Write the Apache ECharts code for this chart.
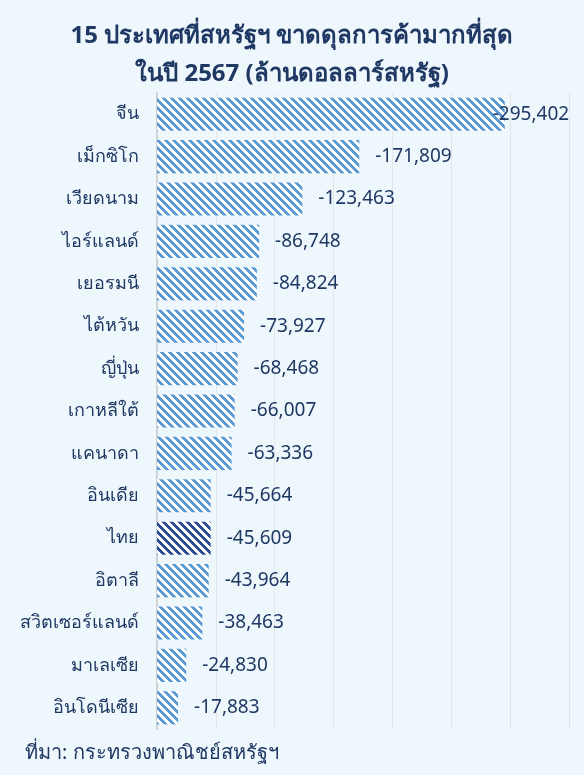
<!DOCTYPE html>
<html>
<head>
<meta charset="utf-8">
<script src="https://cdn.jsdelivr.net/npm/echarts@6/dist/echarts.min.js"></script>
<style>
  html, body { margin: 0; padding: 0; background: #eef7fb; }
  #chart { width: 584px; height: 775px; }
  .edge { position: absolute; left: 5px; top: 0; width: 2px; height: 775px; background: #cfd3d6; }
</style>
</head>
<body>
<div class="edge"></div>
<div id="chart"></div>
<script>
const countries = ['จีน', 'เม็กซิโก', 'เวียดนาม', 'ไอร์แลนด์', 'เยอรมนี', 'ไต้หวัน', 'ญี่ปุ่น', 'เกาหลีใต้',
  'แคนาดา', 'อินเดีย', 'ไทย', 'อิตาลี', 'สวิตเซอร์แลนด์', 'มาเลเซีย', 'อินโดนีเซีย']
const deficits = [-295402, -171809, -123463, -86748, -84824, -73927, -68468, -66007,
  -63336, -45664, -45609, -43964, -38463, -24830, -17883]
const highlight = 'ไทย'

// diagonal stripe tile used as the bar fill
function stripes(color) {
  const n = 8
  const c = document.createElement('canvas')
  c.width = n
  c.height = n
  const ctx = c.getContext('2d')
  ctx.fillStyle = '#ffffff'
  ctx.fillRect(0, 0, n, n)
  ctx.fillStyle = color
  for (let y = 0; y < n; y++) {
    for (let x = 0; x < n; x++) {
      if (((x - y) % n + n) % n < 4) ctx.fillRect(x, y, 1, 1)
    }
  }
  return { image: c, repeat: 'repeat' }
}

const light = stripes('#5b9bd5')
const dark = stripes('#2f4c96')

const fmt = v => v.toLocaleString('en-US')
const font = 'Noto Sans, DejaVu Sans, sans-serif'

const chart = echarts.init(document.getElementById('chart'))
chart.setOption({
  backgroundColor: '#eef7fb',
  textStyle: { fontFamily: font },
  title: {
    text: '15 ประเทศที่สหรัฐฯ ขาดดุลการค้ามากที่สุด\nในปี 2567 (ล้านดอลลาร์สหรัฐ)',
    left: 'center',
    top: 12,
    textStyle: { color: '#1f3864', fontSize: 24, fontWeight: 'bold', lineHeight: 38 }
  },
  graphic: [{
    type: 'text',
    left: 25,
    top: 743,
    style: { text: 'ที่มา: กระทรวงพาณิชย์สหรัฐฯ', fill: '#1f3864', fontSize: 20, fontFamily: font }
  }],
  grid: { left: 157, right: 15, top: 93, bottom: 46, containLabel: false },
  xAxis: {
    type: 'value',
    inverse: true,
    min: -350000,
    max: 0,
    interval: 50000,
    axisLabel: { show: false },
    axisLine: { show: false },
    axisTick: { show: false },
    splitLine: { lineStyle: { color: '#e2e6e9', width: 1 } }
  },
  yAxis: {
    type: 'category',
    inverse: true,
    data: countries,
    axisTick: { show: false },
    axisLine: { lineStyle: { color: '#cfd3d6', width: 2 } },
    axisLabel: { color: '#1f3864', fontSize: 18, margin: 18 }
  },
  series: [{
    type: 'bar',
    barCategoryGap: '22%',
    data: deficits.map((v, i) => ({
      value: v,
      itemStyle: { color: countries[i] === highlight ? dark : light },
      label: i === 0 ? { distance: -12 } : undefined
    })),
    label: {
      show: true,
      position: 'right',
      distance: 16,
      color: '#1f3864',
      fontSize: 19,
      formatter: p => fmt(p.value)
    }
  }]
})
</script>
</body>
</html>
